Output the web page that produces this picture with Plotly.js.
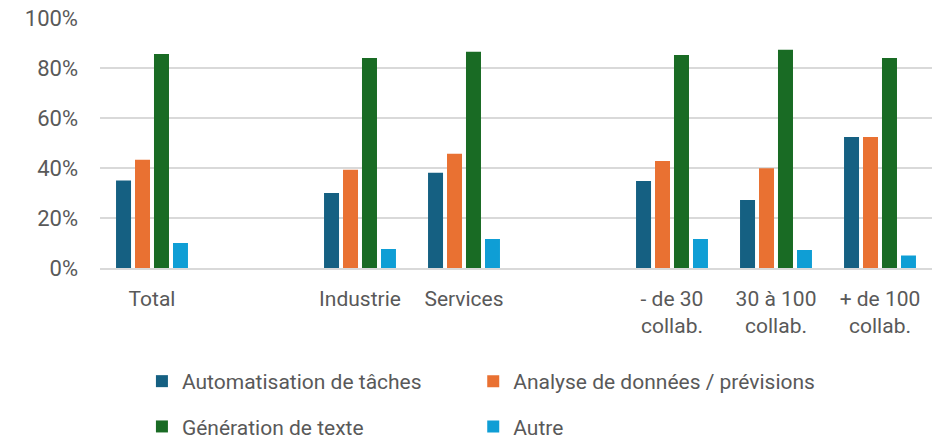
<!DOCTYPE html>
<html>
<head>
<meta charset="utf-8">
<script src="https://cdn.plot.ly/plotly-3.0.1.min.js"></script>
<style>html,body{margin:0;padding:0;background:#fff;}#chart{width:938px;height:439px;}</style>
</head>
<body>
<div id="chart"></div>
<script>
const categories = ['Total', ' ', 'Industrie', 'Services', '  ', '- de 30<br>collab.', '30 à 100<br>collab.', '+ de 100<br>collab.'];
const automatisation = [35.0, null, 30.0, 38.1, null, 34.8, 27.2, 52.4];
const analyse = [43.3, null, 39.3, 45.7, null, 42.8, 39.9, 52.4];
const generation = [85.6, null, 84.0, 86.5, null, 85.2, 87.3, 84.0];
const autre = [10.0, null, 7.6, 11.6, null, 11.6, 7.2, 5.0];
const seriesNames = ['Automatisation de tâches', 'Analyse de données / prévisions', 'Génération de texte', 'Autre'];
const colors = ['#156082', '#E97132', '#196B24', '#0F9ED5'];
const tickVals = [0, 20, 40, 60, 80, 100];
const tickText = ['0%', '20%', '40%', '60%', '80%', '100%'];

const font = "Roboto, 'Liberation Sans', Arial, sans-serif";
const seriesData = [automatisation, analyse, generation, autre];
const legendIds = ['legend', 'legend2', 'legend', 'legend2'];
const traces = seriesData.map((vals, i) => ({
  type: 'bar',
  name: seriesNames[i],
  x: categories,
  y: vals,
  marker: {color: colors[i]},
  legend: legendIds[i],
  legendgroup: 'g' + i,
  hoverinfo: 'skip'
}));

const legendCommon = {
  orientation: 'v',
  yanchor: 'top',
  xanchor: 'left',
  tracegroupgap: 15,
  font: {family: font, size: 21, color: '#595959'},
  bgcolor: 'rgba(0,0,0,0)',
  itemwidth: 30,
  traceorder: 'grouped'
};

const layout = {
  width: 938,
  height: 439,
  margin: {l: 100, r: 6, t: 18, b: 171, autoexpand: false},
  paper_bgcolor: '#ffffff',
  plot_bgcolor: '#ffffff',
  font: {family: font, size: 21, color: '#595959'},
  barmode: 'group',
  bargap: 0.27,
  bargroupgap: 0.21,
  showlegend: true,
  legend: Object.assign({}, legendCommon, {x: 0.0504, y: -0.372}),
  legend2: Object.assign({}, legendCommon, {x: 0.4486, y: -0.372}),
  xaxis: {
    type: 'category',
    categoryorder: 'array',
    categoryarray: categories,
    range: [-0.5, 7.5],
    showgrid: false,
    showline: true,
    linecolor: '#d9d9d9',
    linewidth: 1.5,
    ticks: '',
    ticklabelstandoff: 11,
    tickfont: {family: font, size: 21, color: '#595959'},
    fixedrange: true
  },
  yaxis: {
    range: [0, 100],
    tickvals: tickVals,
    ticktext: tickText,
    showgrid: true,
    gridcolor: '#d9d9d9',
    gridwidth: 1.5,
    zeroline: false,
    showline: false,
    ticks: '',
    ticklabelstandoff: 21,
    tickfont: {family: font, size: 22, color: '#595959'},
    fixedrange: true
  }
};

Plotly.newPlot('chart', traces, layout, {displayModeBar: false, staticPlot: true});
</script>
</body>
</html>
